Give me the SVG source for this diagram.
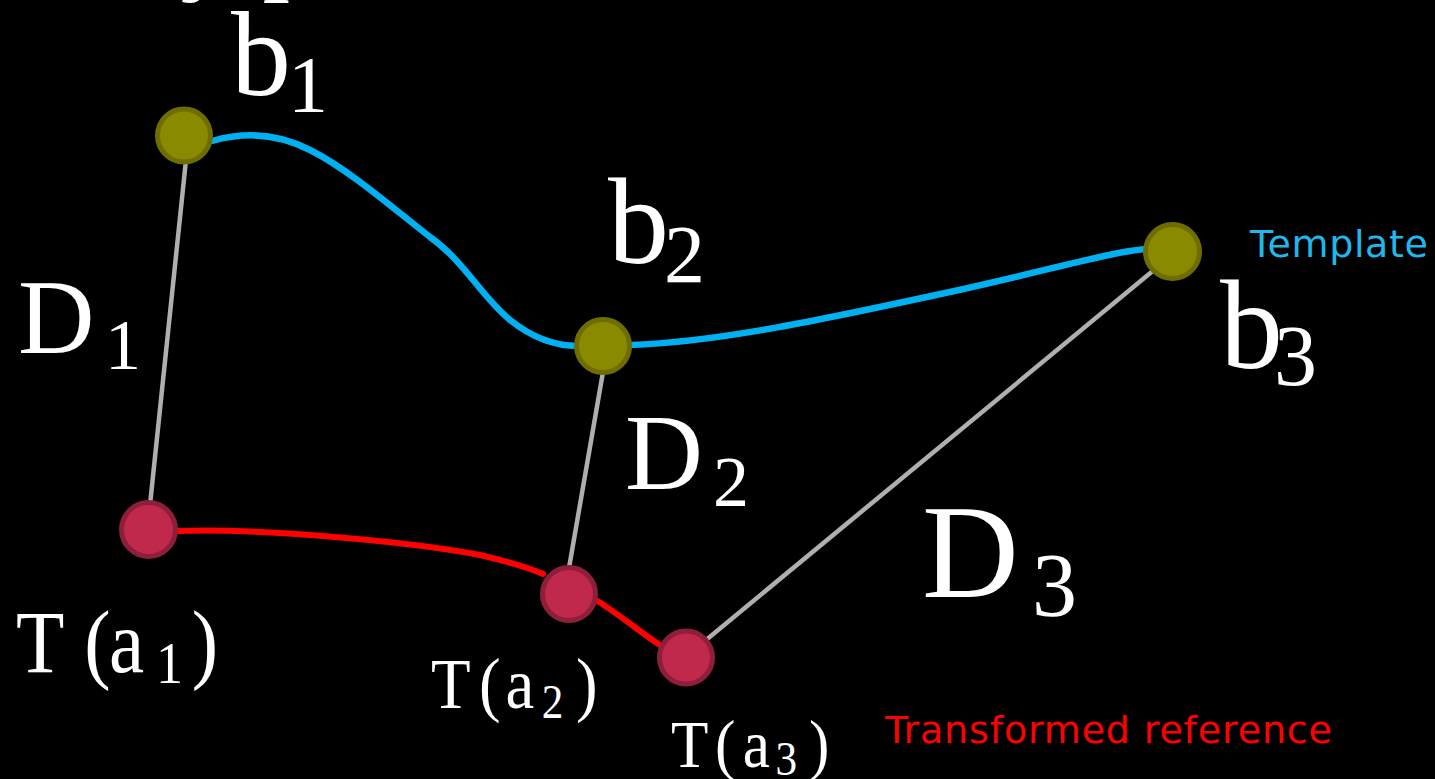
<svg xmlns="http://www.w3.org/2000/svg" width="1435" height="779" viewBox="0 0 1435 779">
<style>
.lbl{font-family:"Liberation Serif","Times New Roman",serif;fill:#fff}
.leg{font-family:"DejaVu Sans",Verdana,sans-serif;font-size:38px}
.tpl{fill:none;stroke:#00B0F0;stroke-width:6.5;stroke-linecap:round}
.ref{fill:none;stroke:#FF0000;stroke-width:6;stroke-linecap:round}
.dist{stroke:#AFAFAF;stroke-width:4.5}
.b{fill:#8A8A00;stroke:#6E6E00;stroke-width:5}
.a{fill:#C0294B;stroke:#8E1E3A;stroke-width:5}
</style>
<rect width="1435" height="779" fill="#000"/>
<text class="lbl" x="180" y="-20" font-size="110">y p</text>
<g id="connectors">
<path class="tpl" d="M212 141 C240 133,275 132,310 150 C350 170,395 210,430 237 C465 262,480 295,510 320 C535 340,560 346,578 346"/>
<path class="tpl" d="M630 345 C720 342,830 318,950 292 C1050 270,1110 252,1146 249"/>
<path class="ref" d="M178 531 C250 528,400 540,480 555 C510 562,530 568,543 574"/>
<path class="ref" d="M596 600 C620 615,640 632,660 645"/>
<line class="dist" x1="186" y1="160" x2="150" y2="505"/>
<line class="dist" x1="603" y1="372" x2="569" y2="568"/>
<line class="dist" x1="1160" y1="265" x2="700" y2="645"/>
</g>
<g id="b1"><circle class="b" cx="184" cy="135.5" r="26.5"/>
<text class="lbl"><tspan x="231" y="95" font-size="120">b</tspan><tspan x="288" y="112" font-size="80">1</tspan></text></g>
<g id="b2"><circle class="b" cx="603" cy="346" r="26.5"/>
<text class="lbl"><tspan x="608" y="263" font-size="122">b</tspan><tspan x="664" y="282" font-size="82">2</tspan></text></g>
<g id="b3"><circle class="b" cx="1172.5" cy="251.5" r="27"/>
<text class="lbl"><tspan x="1220" y="368" font-size="126">b</tspan><tspan x="1274" y="385" font-size="86">3</tspan></text></g>
<g id="a1"><circle class="a" cx="148.5" cy="529.5" r="27"/>
<text class="lbl" transform="translate(16,672) scale(0.9,1)" font-size="88"><tspan x="0" y="0">T</tspan><tspan x="75.8" y="0">(</tspan><tspan x="103.4" y="0">a</tspan><tspan x="155.6" y="11" font-size="60">1</tspan><tspan x="195.2" y="0">)</tspan></text></g>
<g id="a2"><circle class="a" cx="569" cy="594" r="26.5"/>
<text class="lbl" transform="translate(431,708) scale(0.9,1)" font-size="72"><tspan x="0" y="0">T</tspan><tspan x="53.2" y="0">(</tspan><tspan x="82.9" y="0">a</tspan><tspan x="123" y="10" font-size="48">2</tspan><tspan x="161" y="0">)</tspan></text></g>
<g id="a3"><circle class="a" cx="686" cy="657.5" r="26.5"/>
<text class="lbl" transform="translate(671,767) scale(0.9,1)" font-size="68"><tspan x="0" y="0">T</tspan><tspan x="49" y="0">(</tspan><tspan x="79.7" y="0">a</tspan><tspan x="116" y="8" font-size="48">3</tspan><tspan x="153.3" y="0">)</tspan></text></g>
<g id="d1"><text class="lbl"><tspan x="18" y="353" font-size="106">D</tspan><tspan x="105" y="369" font-size="72">1</tspan></text></g>
<g id="d2"><text class="lbl"><tspan x="625" y="489" font-size="108">D</tspan><tspan x="713" y="506" font-size="72">2</tspan></text></g>
<g id="d3"><text class="lbl"><tspan x="922" y="597" font-size="134">D</tspan><tspan x="1032" y="616" font-size="90">3</tspan></text></g>
<g id="legend-template"><text class="leg" x="1250" y="257" fill="#21B7EA" textLength="178">Template</text></g>
<g id="legend-reference"><text class="leg" x="885" y="743" fill="#FF0000" textLength="447">Transformed reference</text></g>
</svg>
